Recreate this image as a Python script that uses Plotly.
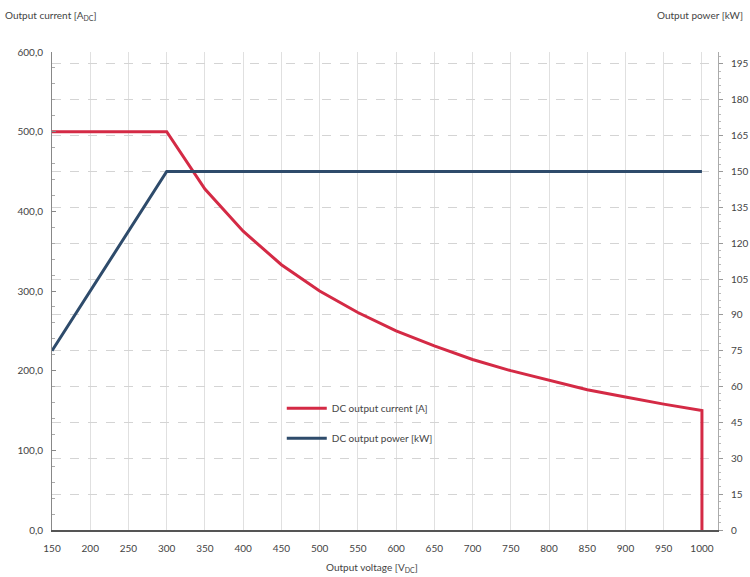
import plotly.graph_objects as go

# Data
voltage_current = [150, 300, 350, 400, 450, 500, 550, 600, 650, 700, 750, 800, 850, 900, 950, 1000, 1000]
current_a = [500, 500, 428, 375, 333, 300, 273, 250, 231, 214, 200, 188, 176, 167, 158, 150, 0]

voltage_power = [150, 300, 1000]
power_kw = [75, 150, 150]

x_ticks = list(range(150, 1001, 50))
left_ticks = [0, 100, 200, 300, 400, 500, 600]
right_ticks = list(range(0, 196, 15))

FONT = "Lato, Open Sans, sans-serif"
TXT = "#444444"
RED = "#d42a45"
BLUE = "#2e4b6b"

fig = go.Figure()
fig.add_trace(go.Scatter(x=voltage_current, y=current_a, mode="lines",
                         name="DC output current [A]", legendgroup="a",
                         line=dict(color=RED, width=3), yaxis="y"))
fig.add_trace(go.Scatter(x=voltage_power, y=power_kw, mode="lines",
                         name="DC output power [kW]", legendgroup="b",
                         line=dict(color=BLUE, width=3), yaxis="y2"))

fig.update_layout(
    width=750, height=577,
    margin=dict(l=52, r=32, t=52, b=47),
    paper_bgcolor="white", plot_bgcolor="white",
    separators=", ",
    font=dict(family=FONT, size=10, color=TXT),
    showlegend=True,
    legend=dict(x=0.345, y=0.285, xanchor="left", yanchor="top",
                bgcolor="rgba(255,255,255,0)", font=dict(size=10, color=TXT),
                tracegroupgap=11, itemwidth=40),
    xaxis=dict(range=[150, 1021], tickvals=x_ticks, ticktext=[str(v) for v in x_ticks],
               showgrid=True, gridcolor="#e0e0e0", gridwidth=1,
               showline=True, linecolor="#555555", linewidth=1.5,
               ticks="", zeroline=False, automargin=False, ticklabelstandoff=8,
               tickfont=dict(size=10, color=TXT)),
    yaxis=dict(range=[0, 600], tickvals=left_ticks, tickformat=".1f",
               showgrid=False, zeroline=False, automargin=False,
               showline=True, linecolor="#888888", linewidth=1,
               ticks="inside", ticklen=4, tickcolor="#888888",
               minor=dict(dtick=20, ticks="inside", ticklen=3, tickcolor="#aaaaaa"),
               ticklabelstandoff=6,
               tickfont=dict(size=10, color=TXT)),
    yaxis2=dict(range=[0, 200], overlaying="y", side="right",
                tickvals=right_ticks, automargin=False,
                showgrid=True, gridcolor="#d4d4d4", griddash="dash", gridwidth=1,
                showline=True, linecolor="#aaaaaa", linewidth=1,
                ticks="outside", ticklen=4, tickcolor="#999999",
                minor=dict(dtick=3, ticks="outside", ticklen=2, tickcolor="#bbbbbb"),
                zeroline=False, ticklabelstandoff=6,
                tickfont=dict(size=10, color=TXT)),
    annotations=[
        dict(text="Output current [A<sub>DC</sub>]", xref="paper", yref="paper",
             x=-0.073, y=1.077, xanchor="left", yanchor="middle", showarrow=False,
             font=dict(size=10, color=TXT)),
        dict(text="Output power [kW]", xref="paper", yref="paper",
             x=1.04, y=1.077, xanchor="right", yanchor="middle", showarrow=False,
             font=dict(size=10, color=TXT)),
        dict(text="Output voltage [V<sub>DC</sub>]", xref="paper", yref="paper",
             x=0.48, y=-0.079, xanchor="center", yanchor="middle", showarrow=False,
             font=dict(size=10, color=TXT)),
    ],
)

fig.write_html("out.html",
               config={"displayModeBar": False},
               post_script="document.body.style.margin='0';document.body.style.overflow='hidden';")
